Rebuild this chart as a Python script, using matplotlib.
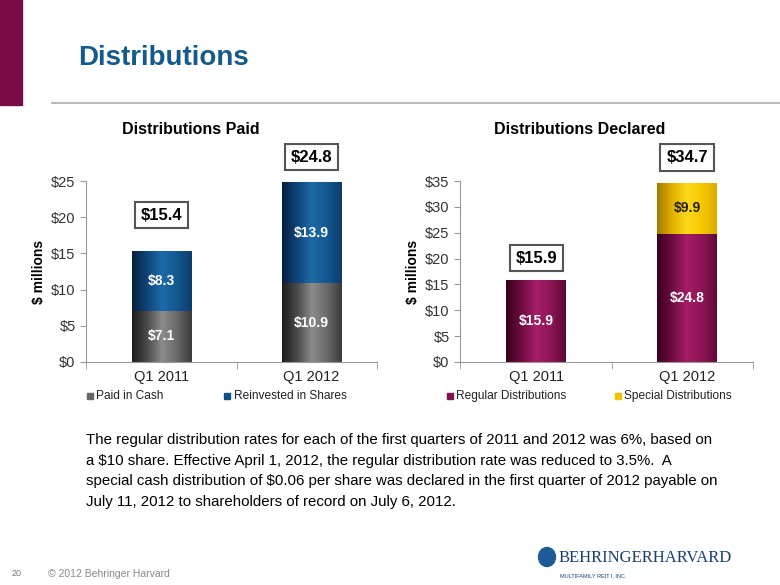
import numpy as np
import matplotlib.pyplot as plt
from matplotlib.patches import Rectangle, Ellipse
from matplotlib.colors import LinearSegmentedColormap

plt.rcParams['font.family'] = ['Liberation Sans', 'DejaVu Sans']

# data
quarters = ["Q1 2011", "Q1 2012"]
paid_cash = [7.1, 10.9]
reinvested = [8.3, 13.9]
paid_total = [15.4, 24.8]
regular = [15.9, 24.8]
special = [0, 9.9]
declared_total = [15.9, 34.7]

# cylinder-ish shading for the bars (dark left edge, light middle)
shades = {
    "gray": ["#1c1c1c", "#4a4a4a", "#8c8c8c", "#6a6a6a", "#3a3a3a"],
    "blue": ["#07203f", "#0f4478", "#1c6aa8", "#155790", "#0c3d6c"],
    "maroon": ["#3a0020", "#6e0c40", "#a51d66", "#8c1555", "#5e0a36"],
    "yellow": ["#a07c00", "#e0b000", "#ffd91a", "#f5c800", "#d9a900"],
}
legend_col = {"gray": "#666666", "blue": "#104E85", "maroon": "#85104E", "yellow": "#F4C300"}

fig = plt.figure(figsize=(7.8, 5.85), dpi=100)

# slide decoration
fig.patches.append(Rectangle((0, 1 - 105/585), 22/780, 105/585, transform=fig.transFigure,
                             color="#7A0A48", zorder=0))
fig.add_artist(plt.Line2D([52/780, 1], [1 - 103/585] * 2, color="#BBBBBB", lw=1.5))
fig.text(78/780, 1 - 58/585, "Distributions", fontsize=20, fontweight="bold",
         color="#155A8C", va="center")

grad = np.linspace(0, 1, 256).reshape(1, -1)


def shade(ax, bars, name):
    cmap = LinearSegmentedColormap.from_list(name, shades[name])
    for b in bars:
        if b.get_height() <= 0:
            continue
        x0, y0 = b.get_x(), b.get_y()
        im = ax.imshow(grad, cmap=cmap, aspect="auto", zorder=2,
                       extent=[x0, x0 + b.get_width(), y0, y0 + b.get_height()])
        im.set_clip_path(b)


def stacked(ax, bottom_vals, top_vals, totals, c1, c2, ymax, step, box_y, lab_colors,
            legend_labels, legend_x):
    x = np.arange(len(quarters))
    w = 0.394
    b1 = ax.bar(x, bottom_vals, w, color=legend_col[c1], zorder=1)
    b2 = ax.bar(x, top_vals, w, bottom=bottom_vals, color=legend_col[c2], zorder=1)
    shade(ax, b1, c1)
    shade(ax, b2, c2)
    for i in range(len(x)):
        ax.text(x[i], bottom_vals[i] / 2, f"${bottom_vals[i]}", ha="center", va="center",
                color=lab_colors[0], fontsize=10, fontweight="bold", zorder=3)
        if top_vals[i] > 0:
            ax.text(x[i], bottom_vals[i] + top_vals[i] / 2, f"${top_vals[i]}", ha="center",
                    va="center", color=lab_colors[1], fontsize=10, fontweight="bold", zorder=3)
        ax.text(x[i], box_y[i], f"${totals[i]}", ha="center", va="center", fontsize=12,
                fontweight="bold", clip_on=False, zorder=3,
                bbox=dict(boxstyle="square,pad=0.35", fc="white", ec="#555555", lw=1.5))
    ax.set_xlim(-0.505, 1.437)
    ax.set_ylim(0, ymax)
    ax.set_yticks(np.arange(0, ymax + 1, step))
    ax.set_yticklabels([f"${v}" for v in range(0, ymax + 1, step)])
    ax.set_xticks(x)
    ax.set_xticklabels(quarters)
    ax.set_xticks([-0.505, 0.5, 1.437], minor=True)
    ax.tick_params(axis="x", which="major", length=0, pad=6, labelsize=10.5, colors="#222222")
    ax.tick_params(axis="x", which="minor", length=5, color="#999999")
    ax.tick_params(axis="y", length=4, color="#999999", labelsize=10.5, labelcolor="#333333")
    for s in ["top", "right"]:
        ax.spines[s].set_visible(False)
    for s in ["left", "bottom"]:
        ax.spines[s].set_color("#999999")
    ax.set_ylabel("$ millions", fontsize=10, fontweight="bold", labelpad=4)
    # legend
    for lx, lab, c in zip(legend_x, legend_labels, [c1, c2]):
        ax.plot([lx], [-0.19], marker="s", ms=5, color=legend_col[c], transform=ax.transAxes,
                clip_on=False)
        ax.text(lx + 0.022, -0.19, lab, transform=ax.transAxes, va="center", fontsize=8.6,
                color="#222222")


ax1 = fig.add_axes([86/780, 1 - 362/585, 291/780, 181/585])
stacked(ax1, paid_cash, reinvested, paid_total, "gray", "blue", 25, 5, [20.3, 28.3],
        ["white", "white"], ["Paid in Cash", "Reinvested in Shares"], [0.014, 0.485])
ax1.set_title("Distributions Paid", fontsize=11.5, fontweight="bold", x=0.36, pad=34)

ax2 = fig.add_axes([460/780, 1 - 362/585, 293/780, 181/585])
stacked(ax2, regular, special, declared_total, "maroon", "yellow", 35, 5, [20.1, 39.6],
        ["white", "#222222"], ["Regular Distributions", "Special Distributions"],
        [-0.034, 0.539])
ax2.set_title("Distributions Declared", fontsize=11.5, fontweight="bold", x=0.41, pad=34)

body = ("The regular distribution rates for each of the first quarters of 2011 and 2012 was 6%, based on\n"
        "a \\$10 share. Effective April 1, 2012, the regular distribution rate was reduced to 3.5%.  A\n"
        "special cash distribution of \\$0.06 per share was declared in the first quarter of 2012 payable on\n"
        "July 11, 2012 to shareholders of record on July 6, 2012.")
fig.text(86/780, 1 - 433/585, body, fontsize=10.8, va="top", linespacing=1.6)

# footer
fig.text(12/780, 1 - 574/585, "20", fontsize=6.5, color="#777777", va="center")
fig.text(48/780, 1 - 574/585, "\u00a9 2012 Behringer Harvard", fontsize=7.5, color="#888888",
         va="center")
fig.add_artist(Ellipse((547/780, 1 - 557/585), 17/780, 19/585, transform=fig.transFigure,
                       color="#1D5A96"))
fig.text(0.716, 1 - 558/585, "BEHRINGERHARVARD", fontsize=12, family="Liberation Serif",
         color="#1D3F73", va="center")
fig.text(0.718, 1 - 576/585, "MULTIFAMILY REIT I, INC.", fontsize=4, color="#1D3F73",
         va="center")

fig.savefig("out.png", dpi=100)
